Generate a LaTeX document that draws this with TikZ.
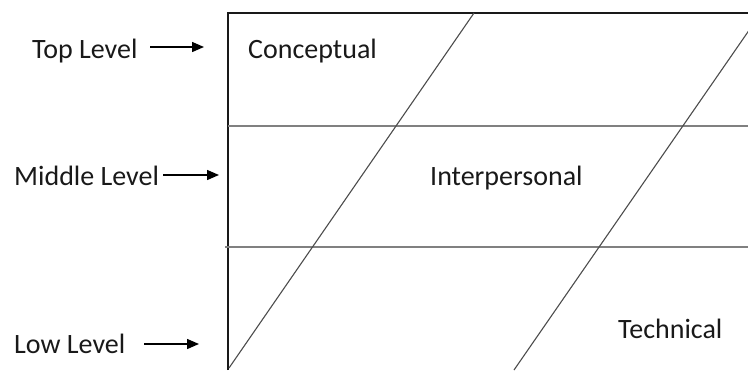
\documentclass[tikz,border=0pt]{standalone}
\usepackage{fontspec}
\setmainfont{Carlito}
\usetikzlibrary{arrows.meta}
\tikzset{
  lbl/.style={anchor=base west, inner sep=0pt, font=\fontsize{28pt}{30pt}\selectfont, text=black!90},
  pointer/.style={-{Triangle[length=12pt,width=10pt]}, line width=1.4pt, black},
  frame/.style={line width=1.5pt, black!90},
  level/.style={line width=1.1pt, black!50},
  slant/.style={line width=1.1pt, black!70}
}
\begin{document}
\begin{tikzpicture}[x=1pt,y=-1pt]
\useasboundingbox (0,0) rectangle (748,370);
\clip (0,0) rectangle (748,370);
% frame
\draw[frame] (228,370) -- (228,13) -- (748,13);
% level lines
\draw[level] (228,126) -- (748,126);
\draw[level] (225,247) -- (748,247);
% slanted lines
\draw[slant] (474,13) -- (229,368);
\draw[slant] (761,13) -- (514,370);
% labels
\node[lbl] (top) at (32,58) {Top Level};
\node[lbl] (mid) at (14,185) {Middle Level};
\node[lbl] (low) at (14,353) {Low Level};
\node[lbl] (con) at (248,58) {Conceptual};
\node[lbl] (int) at (430,185) {Interpersonal};
\node[lbl] (tec) at (618,338) {Technical};
% arrows
\coordinate (ts) at (150,47); \coordinate (te) at (204,47);
\coordinate (ms) at (163,175); \coordinate (me) at (219,175);
\coordinate (ls) at (144,344); \coordinate (le) at (199,344);
\draw[pointer] (ts) -- (te);
\draw[pointer] (ms) -- (me);
\draw[pointer] (ls) -- (le);
\end{tikzpicture}
\end{document}
